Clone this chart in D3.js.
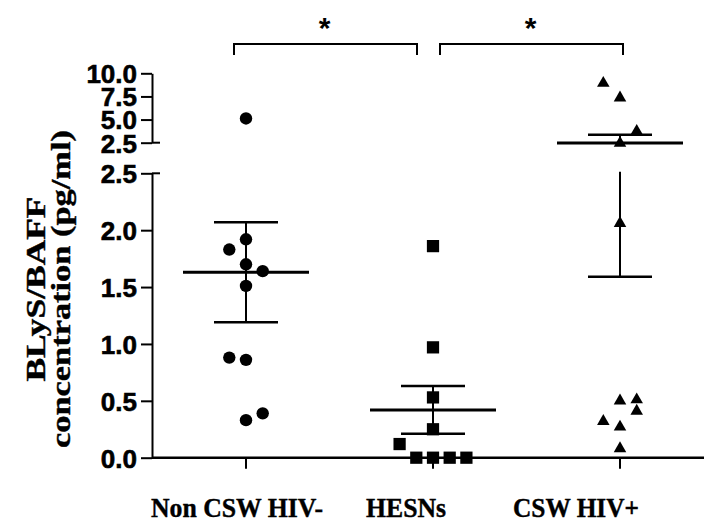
<!DOCTYPE html>
<html>
<head>
<meta charset="utf-8">
<script src="https://cdn.jsdelivr.net/npm/d3@7"></script>
<style>
  body { margin: 0; background: #fff; }
</style>
</head>
<body>
<div id="chart"></div>
<script>
// groups on the x axis
const groups = ["Non CSW HIV-", "HESNs", "CSW HIV+"];

// concentrations (pg/ml) per group, with the scatter column each dot sits in
const nonCswValues = [5.12, 1.92, 1.83, 1.70, 1.64, 1.51, 0.88, 0.86, 0.33, 0.39];
const nonCswCols   = [0, 0, -1, 0, 1, 0, -1, 0, 0, 1];
const hesnValues = [1.86, 0.97, 0.53, 0.25, 0.12, 0, 0, 0, 0];
const hesnCols   = [0, 0, 0, 0, -2, -1, 0, 1, 2];
const cswPosValues = [8.93, 7.35, 3.74, 2.45, 2.06, 0.51, 0.50, 0.41, 0.32, 0.27, 0.08];
const cswPosCols   = [-1, 0, 1, 0, 0, 1, 0, 1, -1, 0, 0];

// mean +/- SEM
const means = [1.63, 0.42, 2.48];
const sems  = [0.44, 0.21, 0.89];

// broken y axis ticks
const lowTicks  = [0, 0.5, 1.0, 1.5, 2.0, 2.5];
const highTicks = [2.5, 5.0, 7.5, 10.0];

// significance brackets
const comparisons = [[0, 1, "*"], [1, 2, "*"]];

const seriesData = [
  { values: nonCswValues, cols: nonCswCols, shape: d3.symbolCircle, size: 121 },
  { values: hesnValues, cols: hesnCols, shape: d3.symbolSquare, size: 150 },
  { values: cswPosValues, cols: cswPosCols, shape: d3.symbolTriangle, size: 68 }
];

const width = 704, height = 527;
const axisX = 152;
const colStep = 16.7;
const breakAt = 2.45;
const sansBold = "'Liberation Sans', Arial, sans-serif";
const serifBold = "'Liberation Serif', 'Times New Roman', serif";

const svg = d3.select("#chart")
  .append("svg")
  .attr("width", width)
  .attr("height", height)
  .style("background", "#fff");

const x = d3.scalePoint().domain(groups).range([246, 620]);
const yLow = d3.scaleLinear().domain([0, 2.5]).range([457.7, 173.3]);
const yHigh = d3.scaleLinear().domain([2.5, 10]).range([142.7, 73.3]);
const y = v => v >= breakAt ? yHigh(v) : yLow(v);

// y axes (lower and upper segments)
function yAxis(scale, ticks) {
  const g = svg.append("g")
    .attr("transform", "translate(" + axisX + ",0)")
    .call(d3.axisLeft(scale)
      .tickValues(ticks)
      .tickSize(11)
      .tickSizeOuter(0)
      .tickPadding(4)
      .tickFormat(d3.format(".1f")));
  g.selectAll("path, line").attr("stroke", "#000").attr("stroke-width", 2);
  g.selectAll("text")
    .attr("dy", "0.36em")
    .style("font-family", sansBold)
    .style("font-weight", "bold")
    .style("font-size", "26px")
    .attr("fill", "#000")
    .attr("stroke", "#000")
    .attr("stroke-width", 0.6);
  // little cap at the break end
  g.append("line")
    .attr("x1", 0).attr("x2", 8)
    .attr("y1", scale(2.5)).attr("y2", scale(2.5))
    .attr("stroke", "#000").attr("stroke-width", 2);
  return g;
}
yAxis(yLow, lowTicks);
yAxis(yHigh, highTicks);

// x axis baseline + ticks
svg.append("line")
  .attr("x1", axisX).attr("x2", width)
  .attr("y1", yLow(0)).attr("y2", yLow(0))
  .attr("stroke", "#000").attr("stroke-width", 2.5);

svg.selectAll(".xtick")
  .data(groups)
  .enter()
  .append("line")
  .attr("x1", d => x(d)).attr("x2", d => x(d))
  .attr("y1", yLow(0)).attr("y2", yLow(0) + 11)
  .attr("stroke", "#000").attr("stroke-width", 2);

// x labels (not centred on the ticks in the original)
const labelShift = [-9, -27, -44];
const labelWidth = [172, 80, 126];
svg.selectAll(".xlabel")
  .data(groups)
  .enter()
  .append("text")
  .attr("x", (d, i) => x(d) + labelShift[i])
  .attr("y", 517)
  .attr("text-anchor", "middle")
  .attr("textLength", (d, i) => labelWidth[i])
  .attr("lengthAdjust", "spacingAndGlyphs")
  .attr("stroke", "#000")
  .attr("stroke-width", 0.4)
  .style("font-family", serifBold)
  .style("font-weight", "bold")
  .style("font-size", "27px")
  .text(d => d);

// y label
const yLabel = svg.append("g")
  .attr("transform", "translate(0,289)")
  .attr("stroke", "#000")
  .attr("stroke-width", 0.4);
yLabel.append("text")
  .attr("transform", "translate(45,0) rotate(-90)")
  .attr("text-anchor", "middle")
  .attr("textLength", 185)
  .attr("lengthAdjust", "spacingAndGlyphs")
  .style("font-family", serifBold)
  .style("font-weight", "bold")
  .style("font-size", "28px")
  .text("BLyS/BAFF");
yLabel.append("text")
  .attr("transform", "translate(70,0) rotate(-90)")
  .attr("text-anchor", "middle")
  .attr("textLength", 318)
  .attr("lengthAdjust", "spacingAndGlyphs")
  .style("font-family", serifBold)
  .style("font-weight", "bold")
  .style("font-size", "28px")
  .text("concentration (pg/ml)");

// error bars: mean line, SEM caps, vertical
function vLine(g, cx, a, b) {
  // a, b values; split across the axis break if needed
  const lo = Math.min(a, b), hi = Math.max(a, b);
  if (lo < breakAt && hi >= breakAt) {
    g.append("line").attr("x1", cx).attr("x2", cx)
      .attr("y1", yLow(lo)).attr("y2", yLow(2.5) - 1.5);
    g.append("line").attr("x1", cx).attr("x2", cx)
      .attr("y1", yHigh(breakAt)).attr("y2", yHigh(hi));
  } else {
    g.append("line").attr("x1", cx).attr("x2", cx)
      .attr("y1", y(lo)).attr("y2", y(hi));
  }
}

const bars = svg.append("g").attr("stroke", "#000");
groups.forEach((grp, i) => {
  const cx = x(grp);
  const m = means[i], s = sems[i];
  const vg = bars.append("g").attr("stroke-width", 2);
  vLine(vg, cx, m - s, m);
  vLine(vg, cx, m, m + s);
  [m - s, m + s].forEach(v => {
    bars.append("line")
      .attr("x1", cx - 32).attr("x2", cx + 32)
      .attr("y1", y(v)).attr("y2", y(v))
      .attr("stroke-width", 2.5);
  });
  bars.append("line")
    .attr("x1", cx - 63).attr("x2", cx + 63)
    .attr("y1", y(m)).attr("y2", y(m))
    .attr("stroke-width", 3);
});

// dots
seriesData.forEach((s, i) => {
  const cx = x(groups[i]);
  svg.append("g")
    .selectAll("path")
    .data(s.values)
    .enter()
    .append("path")
    .attr("transform", (v, j) => "translate(" + (cx + s.cols[j] * colStep) + "," + y(v) + ")")
    .attr("d", d3.symbol().type(s.shape).size(s.size))
    .attr("fill", "#000");
});

// significance brackets
const bracketPad = [[-12, -16], [7, 3]];
const bracketY = 44, bracketDrop = 11;
comparisons.forEach((c, i) => {
  const x1 = x(groups[c[0]]) + bracketPad[i][0];
  const x2 = x(groups[c[1]]) + bracketPad[i][1];
  svg.append("path")
    .attr("d", "M" + x1 + "," + (bracketY + bracketDrop) + "V" + bracketY + "H" + x2 + "V" + (bracketY + bracketDrop))
    .attr("fill", "none")
    .attr("stroke", "#000")
    .attr("stroke-width", 2);
  svg.append("text")
    .attr("x", (x1 + x2) / 2 - 1)
    .attr("y", 38)
    .attr("text-anchor", "middle")
    .style("font-family", sansBold)
    .style("font-weight", "bold")
    .style("font-size", "30px")
    .text(c[2]);
});
</script>
</body>
</html>
